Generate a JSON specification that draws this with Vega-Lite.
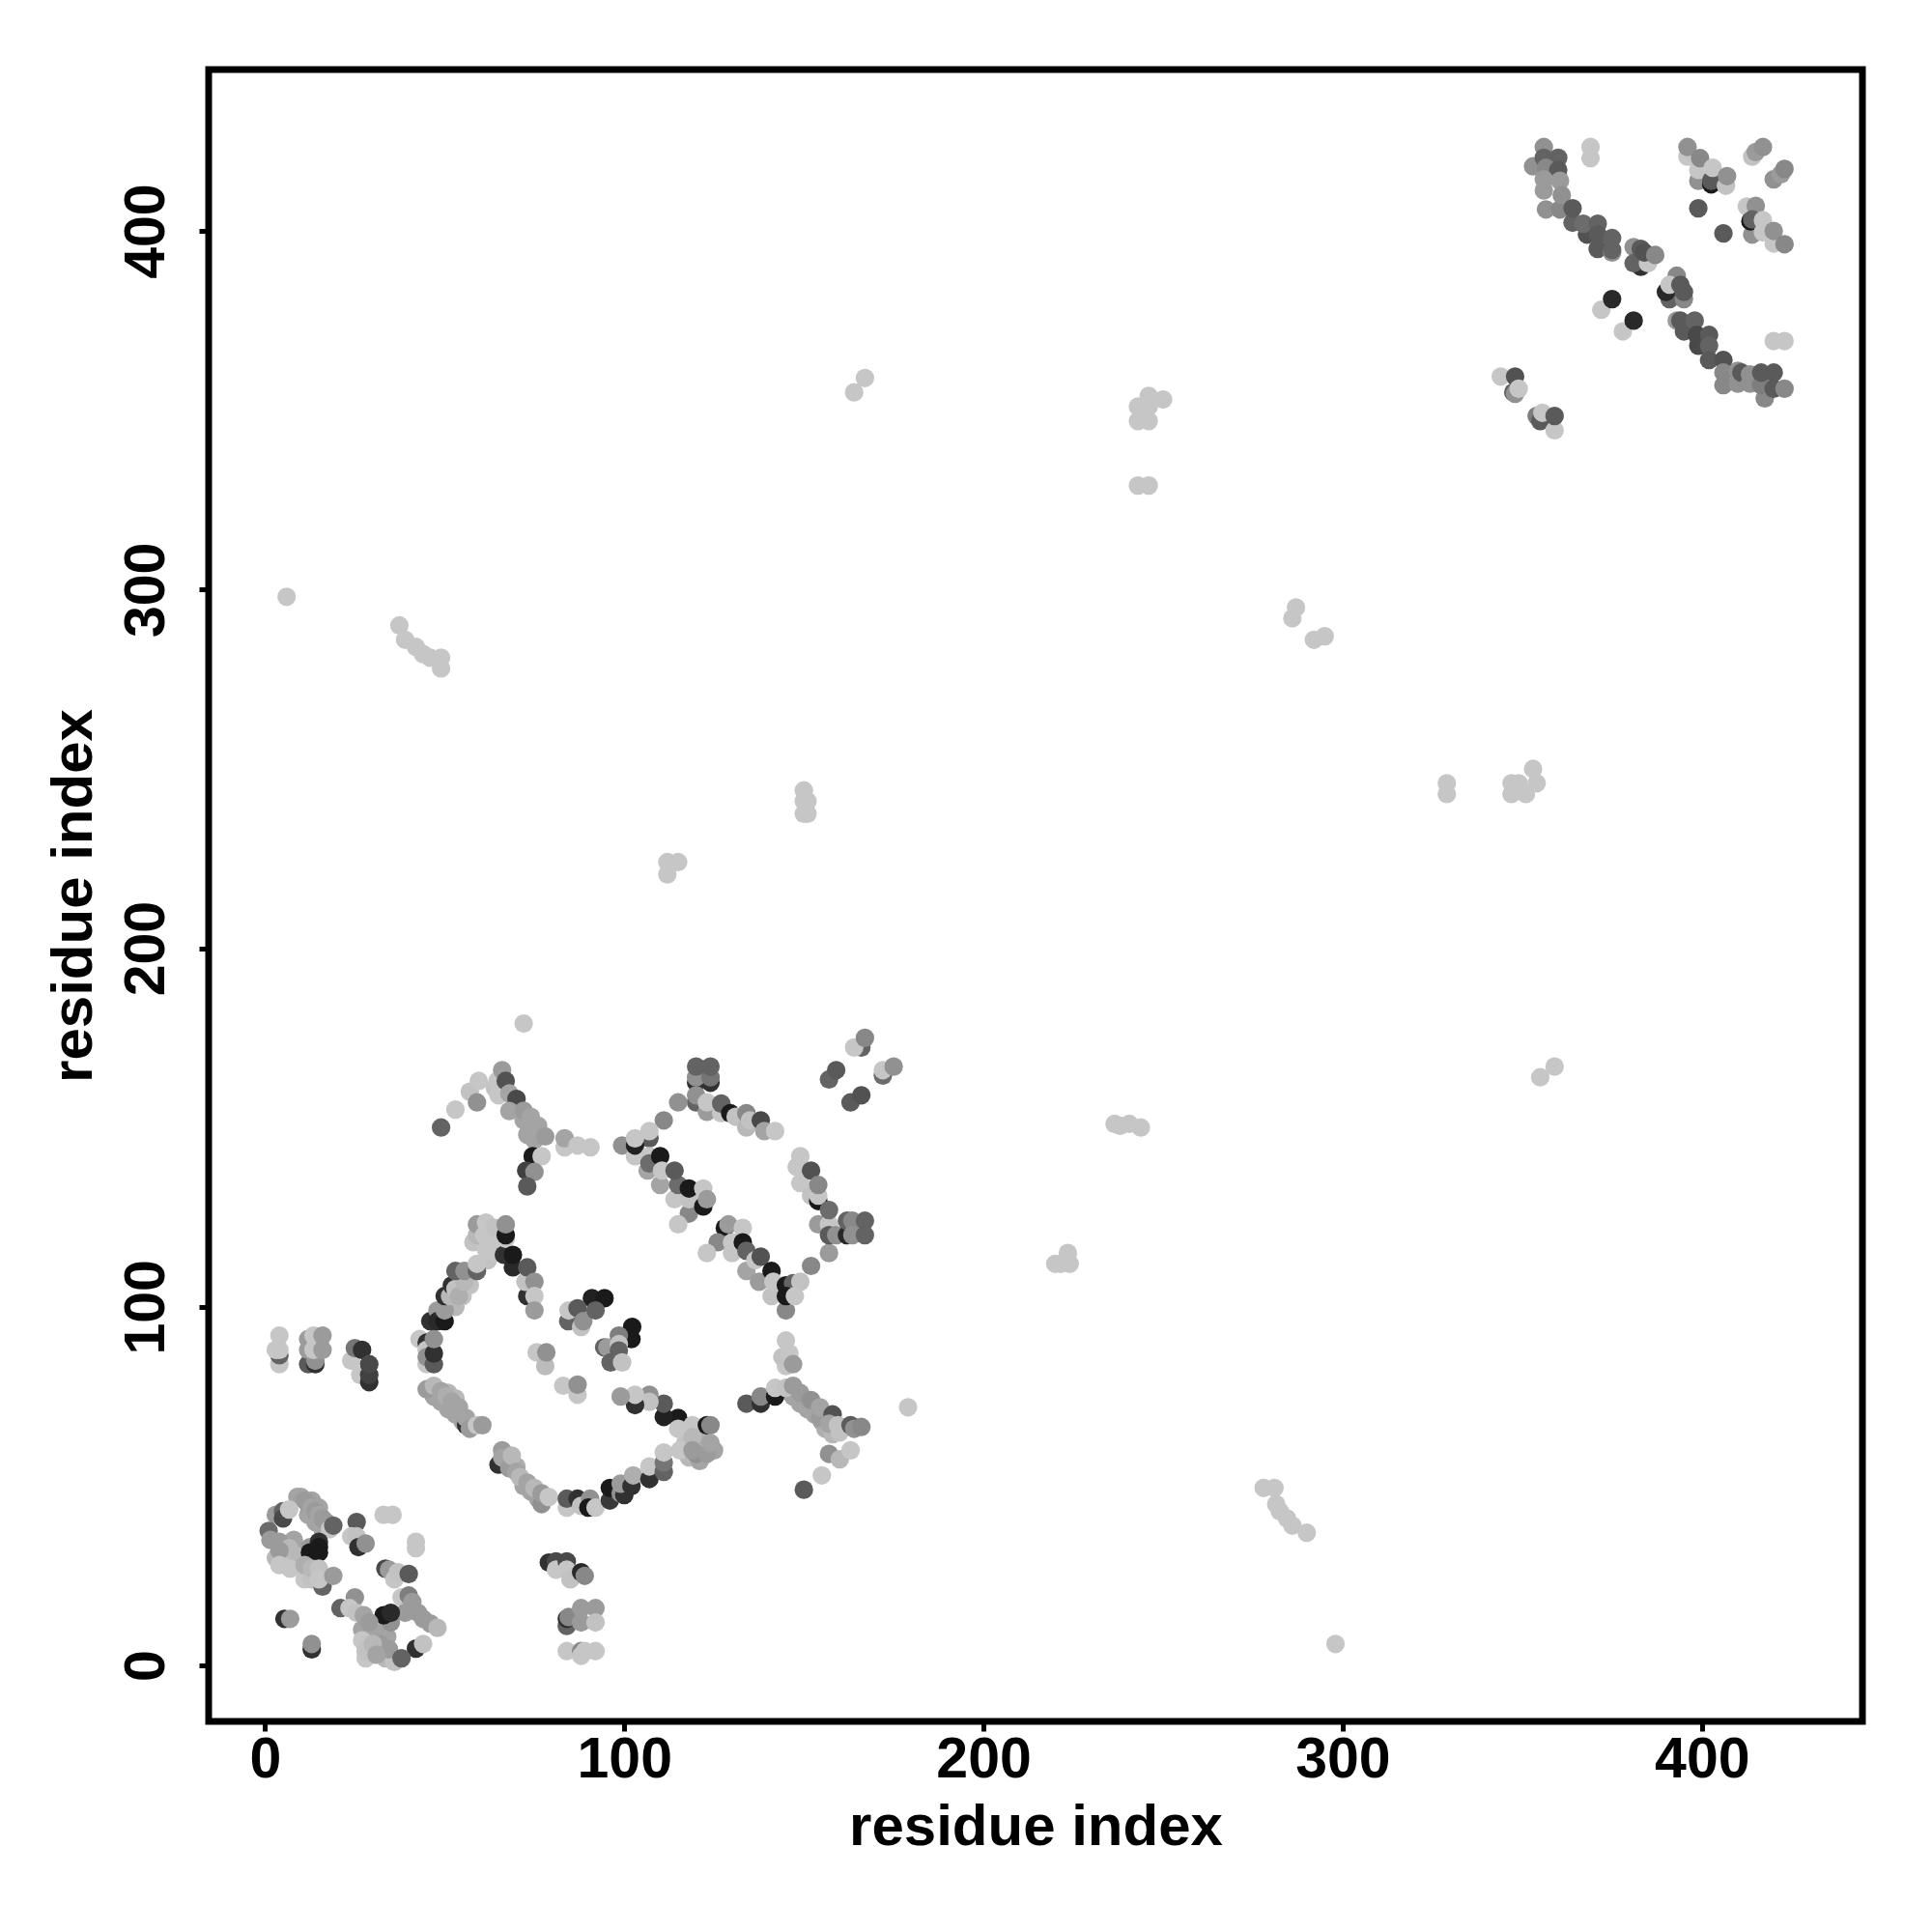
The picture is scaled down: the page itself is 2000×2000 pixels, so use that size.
{"$schema":"https://vega.github.io/schema/vega-lite/v6.json","autosize":{"type":"none"},"padding":{"left":216,"top":72,"right":72,"bottom":218},"width":1712,"height":1710,"background":"white","config":{"font":"Liberation Sans","view":{"stroke":"black","strokeWidth":7}},"data":{"values":[
{"i":12,"j":42,"s":0.2},{"i":14,"j":40,"s":0.2},{"i":16,"j":38,"s":0.2},{"i":13,"j":46,"s":0.2},{"i":15,"j":44,"s":0.2},{"i":47,"j":75,"s":0.2},{"i":49,"j":73.5,"s":0.2},{"i":51,"j":71.5,"s":0.2},{"i":53,"j":70,"s":0.2},{"i":55,"j":68,"s":0.2},{"i":51,"j":76,"s":0.1},{"i":53,"j":74.5,"s":0.1},{"i":68,"j":57,"s":0.2},{"i":70,"j":55.5,"s":0.15},{"i":72,"j":50,"s":0.2},{"i":74,"j":48.5,"s":0.2},{"i":76,"j":46.5,"s":0.2},{"i":149,"j":73,"s":0.2},{"i":151,"j":71.5,"s":0.2},{"i":153,"j":70,"s":0.2},{"i":155,"j":68,"s":0.2},{"i":156,"j":66,"s":0.15},{"i":158,"j":64.5,"s":0.1},{"i":147,"j":75,"s":0.2},{"i":70,"j":155,"s":0.2},{"i":72,"j":152,"s":0.2},{"i":74,"j":150,"s":0.2},{"i":76,"j":148,"s":0.2},{"i":75,"j":146.5,"s":0.2},{"i":66,"j":160,"s":0.1},{"i":64,"j":161,"s":0.05},{"i":53,"j":100,"s":0.1},{"i":55,"j":103,"s":0.05},{"i":57,"j":106,"s":0.05},{"i":63,"j":118,"s":0.03},{"i":66,"j":117,"s":0.03},{"i":60,"j":118,"s":0.03},{"i":3,"j":30,"s":0.1},{"i":6,"j":29.5,"s":0.05},{"i":9,"j":31,"s":0.1},{"i":8,"j":35,"s":0.2},{"i":11,"j":24,"s":0.03},{"i":13,"j":24,"s":0.05},{"i":13,"j":25,"s":0.05},{"i":27,"j":10,"s":0.2},{"i":30,"j":9,"s":0.2},{"i":32,"j":9,"s":0.2},{"i":34,"j":8,"s":0.2},{"i":30,"j":3,"s":0.03},{"i":28,"j":2,"s":0.03},{"i":117,"j":62,"s":0.05},{"i":119,"j":65,"s":0.03},{"i":121,"j":61,"s":0.1},{"i":122,"j":64,"s":0.15},{"i":118,"j":58,"s":0.1},{"i":121,"j":57,"s":0.2},{"i":125,"j":60,"s":0.2},{"i":58,"j":118,"s":0.05},{"i":62,"j":113,"s":0.05},{"i":65,"j":118,"s":0.03},
{"i":9,"j":47,"s":0.2},{"i":10,"j":47,"s":0.2},{"i":11,"j":46,"s":0.25},{"i":12,"j":45,"s":0.25},{"i":13,"j":44,"s":0.2},{"i":14,"j":43,"s":0.25},{"i":15,"j":42,"s":0.2},{"i":16,"j":41,"s":0.25},{"i":17,"j":40,"s":0.25},{"i":18,"j":38,"s":0.03},{"i":19,"j":39,"s":0.55},{"i":3,"j":42,"s":0.25},{"i":5,"j":43,"s":0.55},{"i":5,"j":41,"s":0.7},{"i":6.7,"j":43.5,"s":0.03},{"i":1,"j":37.5,"s":0.5},{"i":1.5,"j":35,"s":0.25},{"i":4,"j":34.5,"s":0.25},{"i":6.7,"j":32.7,"s":0.1},{"i":4,"j":32,"s":0.25},{"i":4,"j":28,"s":0.03},{"i":7,"j":27,"s":0.03},{"i":12.5,"j":33,"s":0.25},{"i":12.5,"j":31.5,"s":1},{"i":15,"j":31.5,"s":1},{"i":15,"j":34.5,"s":0.85},{"i":15,"j":33,"s":1},{"i":11,"j":28,"s":0.15},{"i":13,"j":27,"s":0.1},{"i":15,"j":27,"s":0.05},{"i":16,"j":22,"s":0.55},{"i":15,"j":24,"s":0.03},{"i":19,"j":25,"s":0.25},
{"i":25.5,"j":40,"s":0.6},{"i":24,"j":36,"s":0.03},{"i":25.5,"j":36,"s":0.05},{"i":26,"j":33,"s":0.85},{"i":28,"j":34,"s":0.3},{"i":33,"j":42,"s":0.03},{"i":35.5,"j":42,"s":0.03},{"i":42,"j":34.5,"s":0.03},{"i":42,"j":32.7,"s":0.03},{"i":33.5,"j":27,"s":0.7},{"i":34.5,"j":26.7,"s":0.25},{"i":36,"j":24,"s":0.03},{"i":37,"j":26,"s":0.05},{"i":40,"j":25.5,"s":0.6},
{"i":38,"j":19,"s":0.03},{"i":40,"j":19.5,"s":0.4},{"i":41,"j":17.7,"s":0.25},{"i":39,"j":14.7,"s":0.25},{"i":42.6,"j":14.7,"s":0.25},{"i":44,"j":13,"s":0.25},{"i":46,"j":11.7,"s":0.25},{"i":48,"j":10.5,"s":0.1},{"i":35,"j":12,"s":0.3},{"i":33,"j":14,"s":1},{"i":35,"j":14.7,"s":0.9},{"i":42,"j":4.7,"s":0.85},{"i":44,"j":6,"s":0.05},{"i":33.5,"j":2,"s":0.1},{"i":36,"j":1,"s":0.05},{"i":34.5,"j":4.5,"s":0.25},{"i":32,"j":6,"s":0.25},{"i":27,"j":7,"s":0.03},{"i":28,"j":4,"s":0.05},{"i":30,"j":6,"s":0.1},{"i":31,"j":3,"s":0.2},{"i":38,"j":2,"s":0.55},
{"i":21,"j":16,"s":0.55},{"i":25,"j":19,"s":0.3},{"i":23.5,"j":16,"s":0.03},{"i":25.5,"j":14.7,"s":0.05},{"i":27.5,"j":14,"s":0.2},{"i":29,"j":12,"s":0.25},{"i":5.4,"j":13,"s":0.85},{"i":7,"j":13,"s":0.25},{"i":13,"j":4.5,"s":0.85},{"i":13,"j":6,"s":0.3},
{"i":79,"j":28.7,"s":0.85},{"i":81,"j":29,"s":0.7},{"i":81,"j":26.7,"s":0.03},{"i":84,"j":29,"s":0.7},{"i":84,"j":26.7,"s":0.03},{"i":85,"j":24,"s":0.05},{"i":88,"j":26,"s":0.9},{"i":89,"j":25,"s":0.35},
{"i":84,"j":11,"s":0.55},{"i":84,"j":13,"s":0.85},{"i":84.5,"j":13.5,"s":0.35},{"i":88,"j":16,"s":0.25},{"i":92,"j":16,"s":0.25},{"i":88,"j":12,"s":0.25},{"i":92,"j":12,"s":0.05},{"i":84,"j":4,"s":0.03},{"i":88,"j":4,"s":0.35},{"i":88,"j":2.7,"s":0.03},{"i":89,"j":4,"s":0.03},{"i":92,"j":4,"s":0.03},
{"i":4,"j":84,"s":0.03},{"i":4,"j":86.5,"s":0.55},{"i":3,"j":88,"s":0.03},{"i":4,"j":88,"s":0.03},{"i":4,"j":92,"s":0.03},{"i":12,"j":84,"s":0.6},{"i":14,"j":84,"s":0.85},{"i":14,"j":85,"s":0.3},{"i":12,"j":88,"s":0.25},{"i":12,"j":91,"s":0.25},{"i":13.5,"j":92,"s":0.03},{"i":13.5,"j":88,"s":0.03},{"i":16,"j":92,"s":0.25},{"i":16,"j":88,"s":0.25},
{"i":24,"j":85,"s":0.03},{"i":25,"j":88.5,"s":0.45},{"i":27,"j":88,"s":0.85},{"i":26.5,"j":81,"s":0.03},{"i":29,"j":79,"s":0.85},{"i":29,"j":81,"s":0.75},{"i":29,"j":84,"s":0.7},
{"i":45,"j":84,"s":0.03},{"i":43,"j":91,"s":0.03},{"i":45,"j":90,"s":0.85},{"i":45,"j":88,"s":0.03},{"i":45,"j":86,"s":0.3},{"i":47,"j":84,"s":0.6},{"i":47,"j":87,"s":0.85},{"i":47,"j":91,"s":0.3},{"i":46,"j":96,"s":0.85},{"i":48,"j":99,"s":0.25},{"i":48,"j":96,"s":0.9},{"i":50,"j":96,"s":1},{"i":50,"j":99,"s":0.25},{"i":50,"j":103,"s":0.85},{"i":51.5,"j":103,"s":0.1},{"i":52,"j":106,"s":0.85},{"i":53,"j":105,"s":0.05},{"i":54,"j":103,"s":0.15},{"i":55.5,"j":107,"s":0.1},{"i":53,"j":110,"s":0.55},{"i":55.5,"j":110,"s":0.3},{"i":59,"j":110,"s":0.55},{"i":59,"j":112,"s":0.03},
{"i":59,"j":120,"s":0.1},{"i":59,"j":123,"s":0.25},{"i":61.5,"j":123.5,"s":0.03},{"i":61,"j":120,"s":0.03},{"i":61.5,"j":116,"s":0.03},{"i":64,"j":122,"s":0.05},{"i":64,"j":115,"s":0.03},{"i":66.5,"j":114.5,"s":0.85},{"i":67,"j":119,"s":0.03},{"i":67,"j":120,"s":1},{"i":67,"j":123,"s":0.3},{"i":69,"j":111,"s":0.9},{"i":69,"j":114.5,"s":1},{"i":73,"j":103,"s":0.85},{"i":72.5,"j":107,"s":0.05},{"i":73,"j":111,"s":0.6},{"i":75,"j":107,"s":0.3},{"i":75,"j":103,"s":0.03},{"i":75,"j":99,"s":0.25},
{"i":45,"j":77,"s":0.25},{"i":47,"j":78,"s":0.1},{"i":49,"j":76.5,"s":0.2},{"i":50.5,"j":75,"s":0.15},{"i":52,"j":73.5,"s":0.2},{"i":54,"j":72,"s":0.2},{"i":56,"j":67,"s":0.85},{"i":56,"j":69,"s":0.2},{"i":57,"j":66,"s":0.25},{"i":59,"j":67,"s":0.03},{"i":60.5,"j":67,"s":0.25},
{"i":65,"j":56,"s":0.85},{"i":66,"j":60,"s":0.25},{"i":66,"j":58,"s":0.2},{"i":68,"j":55,"s":0.25},{"i":68.7,"j":58.5,"s":0.1},{"i":70,"j":54,"s":0.2},{"i":71,"j":52.5,"s":0.1},{"i":73,"j":51,"s":0.2},{"i":75,"j":49.5,"s":0.1},{"i":77,"j":45,"s":0.3},{"i":77,"j":48,"s":0.25},{"i":79,"j":47,"s":0.03},
{"i":84,"j":44,"s":0.03},{"i":84,"j":46.5,"s":0.6},{"i":87,"j":46.5,"s":0.85},{"i":88,"j":44.5,"s":0.05},{"i":90.5,"j":46.5,"s":0.3},{"i":90,"j":44,"s":1},{"i":92,"j":44,"s":0.03},{"i":96,"j":46,"s":0.8},{"i":96,"j":49.5,"s":1},{"i":99,"j":48,"s":0.3},{"i":100,"j":47.5,"s":0.85},{"i":99,"j":50.7,"s":0.25},{"i":102,"j":50,"s":0.85},{"i":102.5,"j":53,"s":0.15},{"i":107,"j":52,"s":0.85},{"i":107,"j":55.5,"s":0.03},{"i":111,"j":54,"s":0.55},{"i":111,"j":56.6,"s":0.45},{"i":111,"j":59.4,"s":0.03},
{"i":115,"j":69,"s":1},{"i":111,"j":69.3,"s":0.95},{"i":111,"j":73,"s":0.6},{"i":107,"j":75.5,"s":0.3},{"i":107,"j":73.5,"s":0.05},{"i":103,"j":72.6,"s":0.85},{"i":103,"j":75.5,"s":0.03},{"i":99,"j":75,"s":0.25},{"i":115,"j":66,"s":0.03},{"i":115.5,"j":60,"s":0.03},{"i":119,"j":67,"s":0.03},{"i":119,"j":63.7,"s":0.1},{"i":120,"j":59,"s":0.3},{"i":119,"j":60,"s":0.25},{"i":123,"j":59,"s":0.25},{"i":123,"j":67,"s":1},{"i":124,"j":67,"s":0.35},{"i":124,"j":62,"s":0.2},
{"i":91,"j":102.4,"s":0.95},{"i":94.5,"j":102.4,"s":1},{"i":84.4,"j":96,"s":0.55},{"i":84.5,"j":99,"s":0.03},{"i":88,"j":94.4,"s":0.05},{"i":87,"j":99.6,"s":0.6},{"i":88.6,"j":96,"s":0.3},{"i":92,"j":99,"s":0.55},
{"i":102,"j":91,"s":1},{"i":102.2,"j":94.4,"s":1},{"i":94.4,"j":88.7,"s":0.55},{"i":95.3,"j":88.7,"s":0.25},{"i":96.2,"j":84.5,"s":0.55},{"i":98.5,"j":92,"s":0.4},{"i":98.5,"j":89.6,"s":0.05},{"i":98.5,"j":87.8,"s":0.55},{"i":99.4,"j":84.5,"s":0.05},
{"i":75.6,"j":87.3,"s":0.03},{"i":78,"j":83.5,"s":0.08},{"i":78.3,"j":87.3,"s":0.3},{"i":83,"j":78,"s":0.03},{"i":87,"j":75.5,"s":0.03},{"i":87,"j":78.3,"s":0.3},
{"i":49,"j":150,"s":0.55},{"i":53,"j":155,"s":0.03},{"i":57,"j":160,"s":0.05},{"i":59,"j":157,"s":0.3},{"i":59.5,"j":163,"s":0.03},{"i":64.7,"j":163,"s":0.03},{"i":65,"j":159,"s":0.03},{"i":66,"j":166,"s":0.25},{"i":67,"j":163,"s":0.65},{"i":68,"j":159.5,"s":0.2},{"i":70,"j":158,"s":0.7},{"i":68,"j":154.6,"s":0.2},{"i":72,"j":154.7,"s":0.25},{"i":73,"j":148,"s":0.2},{"i":74,"j":153,"s":0.2},{"i":76,"j":150.5,"s":0.2},{"i":74.5,"j":142,"s":1},{"i":77,"j":142,"s":0.03},{"i":78,"j":147.5,"s":0.25},{"i":72.7,"j":138,"s":0.75},{"i":75,"j":137.6,"s":0.3},{"i":73,"j":133.6,"s":0.6},
{"i":83.4,"j":144.5,"s":0.03},{"i":83.4,"j":147,"s":0.2},{"i":87,"j":145,"s":0.03},{"i":90.6,"j":144.5,"s":0.03},
{"i":166,"j":172.3,"s":0.55},{"i":164,"j":172.3,"s":0.03},{"i":167,"j":175,"s":0.35},{"i":157,"j":163.4,"s":0.55},{"i":159,"j":166,"s":0.6},{"i":172,"j":164.5,"s":0.5},{"i":172,"j":166,"s":0.03},{"i":175,"j":167,"s":0.3},{"i":163,"j":157,"s":0.6},{"i":166,"j":159,"s":0.65},
{"i":120,"j":162.5,"s":0.85},{"i":124,"j":162.5,"s":0.85},{"i":120,"j":164,"s":0.3},{"i":124,"j":164,"s":0.45},{"i":120,"j":167,"s":0.55},{"i":124,"j":167,"s":0.55},{"i":120,"j":157,"s":0.55},{"i":120,"j":159,"s":0.3},{"i":115,"j":157,"s":0.3},{"i":123,"j":154.4,"s":0.25},{"i":123,"j":157,"s":0.03},{"i":127,"j":154,"s":0.03},{"i":127,"j":156.7,"s":0.55},{"i":129.5,"j":154,"s":1},{"i":131,"j":153,"s":0.05},{"i":134,"j":154,"s":0.35},{"i":134,"j":150,"s":0.1},{"i":135,"j":152,"s":0.05},{"i":138,"j":152,"s":0.7},{"i":139,"j":149,"s":0.2},{"i":142,"j":149,"s":0.03},
{"i":111,"j":152,"s":0.35},{"i":107,"j":147,"s":0.6},{"i":107,"j":149,"s":0.03},{"i":99.4,"j":145,"s":0.3},{"i":103,"j":142,"s":0.03},{"i":103,"j":145,"s":0.95},{"i":103,"j":147,"s":0.03},{"i":107,"j":142,"s":0.03},{"i":106.5,"j":138,"s":0.2},{"i":107,"j":140,"s":0.5},{"i":110,"j":142,"s":1},{"i":110,"j":134,"s":0.2},{"i":110.5,"j":138,"s":0.03},{"i":114,"j":130,"s":0.03},{"i":115,"j":134,"s":0.5},{"i":114,"j":138,"s":0.6},{"i":118,"j":126,"s":0.35},{"i":118,"j":130,"s":0.05},{"i":118,"j":133,"s":1},{"i":122,"j":128,"s":1},{"i":122,"j":133,"s":0.03},{"i":123,"j":130,"s":0.25},{"i":115,"j":123,"s":0.03},
{"i":128,"j":122,"s":1},{"i":129,"j":123,"s":0.25},{"i":133,"j":122,"s":0.03},{"i":126,"j":118,"s":0.35},{"i":123,"j":115,"s":0.03},{"i":130,"j":115,"s":0.03},{"i":130,"j":118,"s":0.03},{"i":133,"j":118,"s":1},{"i":134,"j":110,"s":0.2},{"i":134,"j":115.6,"s":0.55},{"i":136.5,"j":113,"s":0.03},{"i":138,"j":114,"s":0.65},{"i":137.5,"j":107,"s":0.25},{"i":141,"j":110,"s":1},{"i":141,"j":103,"s":0.05},{"i":141.5,"j":107,"s":0.03},{"i":145,"j":106,"s":1},{"i":147,"j":106.6,"s":0.55},{"i":149,"j":107,"s":0.05},{"i":145,"j":99,"s":0.35},{"i":145,"j":103,"s":1},{"i":147.5,"j":103,"s":0.03},{"i":152,"j":111.4,"s":0.35},{"i":157,"j":115,"s":0.25},
{"i":149,"j":134.5,"s":0.03},{"i":148,"j":139,"s":0.03},{"i":149,"j":142,"s":0.03},{"i":152,"j":138,"s":0.65},{"i":152,"j":131,"s":0.05},{"i":154,"j":129.5,"s":1},{"i":154,"j":131,"s":0.03},{"i":154,"j":134,"s":0.35},{"i":154,"j":123,"s":0.25},{"i":157,"j":123,"s":0.03},{"i":157,"j":127,"s":0.5},{"i":157,"j":120,"s":0.6},{"i":159,"j":120,"s":0.3},{"i":162,"j":120,"s":0.9},{"i":162,"j":124,"s":0.55},{"i":163.5,"j":124,"s":0.35},{"i":163.5,"j":120,"s":0.3},{"i":167,"j":124,"s":0.55},{"i":167,"j":120,"s":0.55},
{"i":145,"j":83.5,"s":0.03},{"i":144,"j":86,"s":0.05},{"i":145,"j":90.6,"s":0.03},{"i":146,"j":87,"s":0.03},{"i":147,"j":84,"s":0.25},{"i":134,"j":73,"s":0.6},{"i":138,"j":73,"s":0.85},{"i":138,"j":75,"s":0.35},{"i":142,"j":75,"s":1},{"i":142,"j":77.4,"s":0.03},{"i":145,"j":77.4,"s":0.05},{"i":147,"j":78,"s":0.25},{"i":149,"j":76,"s":0.25},{"i":152,"j":74,"s":0.3},{"i":154.5,"j":69,"s":0.25},{"i":154.5,"j":72,"s":0.2},{"i":158,"j":70,"s":0.65},{"i":157,"j":67.4,"s":0.2},{"i":159.5,"j":67,"s":0.05},{"i":160,"j":65,"s":0.05},{"i":163,"j":67,"s":0.6},{"i":164,"j":66,"s":0.3},{"i":166,"j":66.5,"s":0.35},{"i":179,"j":72,"s":0.03},
{"i":157,"j":59,"s":0.3},{"i":160,"j":57.5,"s":0.1},{"i":163,"j":60,"s":0.03},{"i":155,"j":53,"s":0.03},{"i":150,"j":49,"s":0.6},
{"i":72,"j":179,"s":0.03},{"i":6,"j":298,"s":0.03},{"i":37.4,"j":290,"s":0.03},{"i":39,"j":286,"s":0.03},{"i":42,"j":284,"s":0.03},{"i":44,"j":282,"s":0.03},{"i":46,"j":281,"s":0.03},{"i":49,"j":281,"s":0.03},{"i":49,"j":278,"s":0.03},{"i":164,"j":355,"s":0.03},{"i":167,"j":359,"s":0.03},{"i":243,"j":351,"s":0.03},{"i":246,"j":354,"s":0.03},{"i":250,"j":353,"s":0.03},{"i":243,"j":347,"s":0.03},{"i":246,"j":347,"s":0.03},{"i":246,"j":351,"s":0.03},{"i":243,"j":329,"s":0.03},{"i":246,"j":329,"s":0.03},{"i":287,"j":295,"s":0.03},{"i":286,"j":292,"s":0.03},{"i":292,"j":286,"s":0.03},{"i":295,"j":287,"s":0.03},{"i":150,"j":244,"s":0.03},{"i":151,"j":241,"s":0.03},{"i":150,"j":241,"s":0.03},{"i":151,"j":237.5,"s":0.03},{"i":150,"j":237.5,"s":0.03},{"i":112,"j":224,"s":0.03},{"i":115,"j":224,"s":0.03},{"i":112,"j":220.6,"s":0.03},{"i":329,"j":246,"s":0.03},{"i":329,"j":243,"s":0.03},{"i":347,"j":246,"s":0.03},{"i":347,"j":243,"s":0.03},{"i":351,"j":243,"s":0.03},{"i":349,"j":246,"s":0.03},{"i":353,"j":250,"s":0.03},{"i":354,"j":246,"s":0.03},{"i":359,"j":167,"s":0.03},{"i":355,"j":164,"s":0.03},{"i":236.5,"j":151,"s":0.03},{"i":238,"j":150.5,"s":0.03},{"i":240.6,"j":151,"s":0.03},{"i":243.8,"j":150,"s":0.03},{"i":220,"j":112,"s":0.03},{"i":221.5,"j":112,"s":0.03},{"i":223.5,"j":115,"s":0.03},{"i":224,"j":112,"s":0.03},{"i":278,"j":49.5,"s":0.03},{"i":281,"j":49.5,"s":0.03},{"i":281.5,"j":45,"s":0.03},{"i":282.5,"j":43,"s":0.03},{"i":284.5,"j":41,"s":0.03},{"i":286,"j":39,"s":0.03},{"i":290,"j":37,"s":0.03},{"i":298,"j":6,"s":0.03},
{"i":356,"j":423.4,"s":0.3},{"i":353,"j":418,"s":0.3},{"i":356,"j":420.4,"s":0.55},{"i":360,"j":420.4,"s":0.55},{"i":356.6,"j":417.6,"s":0.35},{"i":360,"j":417,"s":0.6},{"i":356.6,"j":406,"s":0.3},{"i":360.5,"j":406,"s":0.35},{"i":356,"j":414.4,"s":0.25},{"i":360.5,"j":414,"s":0.25},{"i":356,"j":411.3,"s":0.25},{"i":361,"j":410,"s":0.3},{"i":364,"j":402.3,"s":0.55},{"i":364,"j":406.3,"s":0.6},{"i":368,"j":399,"s":0.65},{"i":367,"j":402,"s":0.5},{"i":371,"j":402,"s":0.55},{"i":371,"j":399,"s":0.6},{"i":371,"j":395,"s":0.6},{"i":375,"j":394,"s":0.3},{"i":375,"j":394.7,"s":0.55},{"i":375,"j":398,"s":0.55},
{"i":381,"j":395.5,"s":0.3},{"i":383,"j":390,"s":0.85},{"i":381,"j":391,"s":0.55},{"i":385,"j":391,"s":0.03},{"i":383,"j":395,"s":0.6},{"i":384,"j":394,"s":0.65},{"i":387,"j":393.3,"s":0.35},
{"i":393,"j":387.5,"s":0.35},{"i":391,"j":381,"s":0.55},{"i":390,"j":383,"s":0.9},{"i":391,"j":385,"s":0.03},{"i":395,"j":381,"s":0.35},{"i":394,"j":385,"s":0.6},{"i":395,"j":383,"s":0.6},
{"i":372,"j":378,"s":0.03},{"i":375,"j":381,"s":0.9},{"i":378,"j":372,"s":0.03},{"i":381,"j":375,"s":0.9},{"i":393,"j":375,"s":0.25},{"i":395,"j":372,"s":0.6},{"i":394,"j":375,"s":0.6},{"i":398,"j":375,"s":0.55},{"i":399,"j":368,"s":0.7},{"i":398.6,"j":371,"s":0.7},{"i":402,"j":371,"s":0.6},{"i":402,"j":368,"s":0.55},{"i":402,"j":364,"s":0.6},{"i":406,"j":364,"s":0.65},{"i":406,"j":357,"s":0.35},{"i":406,"j":360.5,"s":0.35},{"i":410,"j":361,"s":0.3},{"i":410,"j":357.4,"s":0.3},{"i":411,"j":360.5,"s":0.6},{"i":413.4,"j":357.4,"s":0.3},{"i":413.4,"j":360,"s":0.3},{"i":417.5,"j":353.3,"s":0.35},{"i":416.5,"j":357,"s":0.4},{"i":420,"j":356,"s":0.6},{"i":416.5,"j":360.5,"s":0.6},{"i":420,"j":360.5,"s":0.6},{"i":423,"j":356,"s":0.35},{"i":420,"j":369.3,"s":0.03},{"i":423,"j":369.3,"s":0.03},{"i":369,"j":423.4,"s":0.03},{"i":369,"j":420.3,"s":0.03},
{"i":396,"j":420.7,"s":0.03},{"i":396,"j":423.4,"s":0.3},{"i":399,"j":414,"s":0.3},{"i":399,"j":417,"s":0.03},{"i":399.5,"j":420.3,"s":0.35},{"i":402.6,"j":413,"s":1},{"i":402.6,"j":414,"s":0.6},{"i":403,"j":417.6,"s":0.03},{"i":406.7,"j":412.6,"s":0.05},{"i":407,"j":415.3,"s":0.3},{"i":399,"j":406.3,"s":0.6},{"i":406,"j":399.3,"s":0.6},
{"i":414,"j":420.7,"s":0.05},{"i":415,"j":422,"s":0.25},{"i":417,"j":423.4,"s":0.3},{"i":420,"j":414.4,"s":0.3},{"i":422,"j":415.8,"s":0.25},{"i":423,"j":417.3,"s":0.35},{"i":412.5,"j":406.8,"s":0.03},{"i":415,"j":407,"s":0.3},{"i":414,"j":399,"s":0.3},{"i":413.5,"j":402.7,"s":1},{"i":414,"j":403.2,"s":0.55},{"i":417,"j":403,"s":0.03},{"i":417,"j":399.6,"s":0.03},{"i":420,"j":396.5,"s":0.03},{"i":420,"j":400,"s":0.3},{"i":423,"j":396.3,"s":0.35},
{"i":344,"j":359.4,"s":0.03},{"i":347.5,"j":355,"s":0.55},{"i":348,"j":359.4,"s":0.65},{"i":348,"j":354.6,"s":0.3},{"i":349,"j":356,"s":0.03},{"i":354,"j":348.4,"s":0.4},{"i":355,"j":347,"s":0.6},{"i":355.6,"j":349.3,"s":0.03},{"i":359,"j":344.4,"s":0.03},{"i":359,"j":348.4,"s":0.6}
]},"mark":{"type":"point","shape":"circle","filled":true,"opacity":1,"size":370,"clip":true},"encoding":{"x":{"field":"i","type":"quantitative","scale":{"domain":[-15.7,444.7],"nice":false,"zero":false},"axis":{"values":[0,100,200,300,400],"title":"residue index","format":"d","grid":false,"domain":false,"tickColor":"black","tickWidth":5,"tickSize":10,"labelColor":"black","labelFontSize":59,"labelFontWeight":"bold","labelFont":"Liberation Sans","labelPadding":0,"titleColor":"black","titleFontSize":60,"titleFontWeight":"bold","titleFont":"Liberation Sans","titlePadding":11}},"y":{"field":"j","type":"quantitative","scale":{"domain":[-15.6,445],"nice":false,"zero":false},"axis":{"values":[0,100,200,300,400],"title":"residue index","format":"d","grid":false,"domain":false,"tickColor":"black","tickWidth":5,"tickSize":10,"labelColor":"black","labelFontSize":59,"labelFontWeight":"bold","labelFont":"Liberation Sans","labelAngle":-90,"labelAlign":"center","labelBaseline":"bottom","labelPadding":25,"titleColor":"black","titleFontSize":60,"titleFontWeight":"bold","titleFont":"Liberation Sans","titlePadding":15}},"color":{"field":"s","type":"quantitative","legend":null,"scale":{"domain":[0,1],"range":["#cccccc","#1a1a1a"]}}}}
